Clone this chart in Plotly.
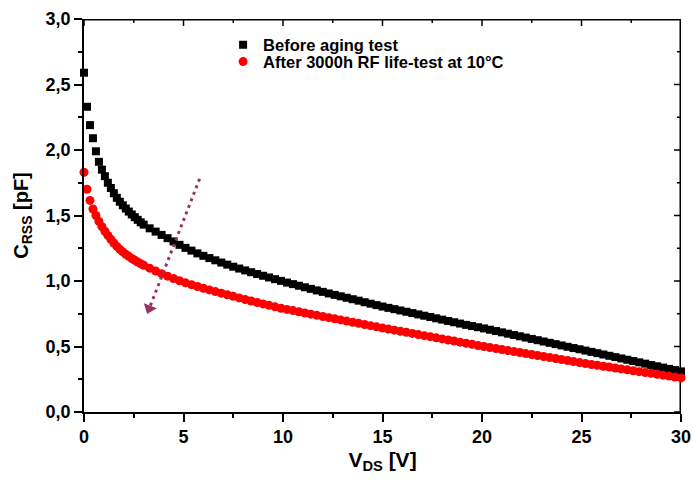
import plotly.graph_objects as go

# ---------------- data ----------------
V_DS = [0, 0.15, 0.3, 0.45, 0.6, 0.75, 0.9, 1.05, 1.2, 1.35,
        1.5, 1.65, 1.8, 1.95, 2.1, 2.25, 2.4, 2.55, 2.7, 2.85,
        3.0, 3.3, 3.6, 3.9, 4.2, 4.5, 4.8, 5.1, 5.4, 5.7,
        6.0, 6.3, 6.6, 6.9, 7.2, 7.5, 7.8, 8.1, 8.4, 8.7,
        9.0, 9.3, 9.6, 9.9, 10.2, 10.5, 10.8, 11.1, 11.4, 11.7,
        12.0, 12.3, 12.6, 12.9, 13.2, 13.5, 13.8, 14.1, 14.4, 14.7,
        15.0, 15.3, 15.6, 15.9, 16.2, 16.5, 16.8, 17.1, 17.4, 17.7,
        18.0, 18.3, 18.6, 18.9, 19.2, 19.5, 19.8, 20.1, 20.4, 20.7,
        21.0, 21.3, 21.6, 21.9, 22.2, 22.5, 22.8, 23.1, 23.4, 23.7,
        24.0, 24.3, 24.6, 24.9, 25.2, 25.5, 25.8, 26.1, 26.4, 26.7,
        27.0, 27.3, 27.6, 27.9, 28.2, 28.5, 28.8, 29.1, 29.4, 29.7,
        30.0]

C_BEFORE = [2.59, 2.33, 2.19, 2.09, 1.99, 1.91, 1.85, 1.80, 1.75, 1.71,
            1.67, 1.635, 1.605, 1.578, 1.553, 1.530, 1.508, 1.487, 1.467, 1.448,
            1.430, 1.402, 1.377, 1.352, 1.327, 1.302, 1.276, 1.253, 1.232, 1.211,
            1.192, 1.175, 1.158, 1.141, 1.125, 1.109, 1.095, 1.081, 1.067, 1.053,
            1.040, 1.027, 1.014, 1.001, 0.988, 0.976, 0.964, 0.952, 0.940, 0.928,
            0.917, 0.905, 0.894, 0.883, 0.872, 0.861, 0.850, 0.838, 0.827, 0.816,
            0.805, 0.795, 0.785, 0.775, 0.765, 0.755, 0.745, 0.735, 0.725, 0.715,
            0.705, 0.695, 0.685, 0.675, 0.665, 0.656, 0.647, 0.638, 0.628, 0.618,
            0.608, 0.598, 0.588, 0.578, 0.568, 0.558, 0.548, 0.538, 0.528, 0.518,
            0.508, 0.498, 0.488, 0.479, 0.469, 0.459, 0.449, 0.439, 0.429, 0.419,
            0.409, 0.399, 0.389, 0.379, 0.369, 0.359, 0.349, 0.339, 0.329, 0.320,
            0.310]

C_AFTER = [1.83, 1.70, 1.615, 1.55, 1.50, 1.455, 1.415, 1.38, 1.348, 1.318,
           1.29, 1.264, 1.242, 1.222, 1.204, 1.188, 1.172, 1.158, 1.145, 1.132,
           1.120, 1.098, 1.076, 1.056, 1.037, 1.019, 1.002, 0.986, 0.972, 0.958,
           0.945, 0.932, 0.919, 0.907, 0.895, 0.883, 0.871, 0.859, 0.847, 0.836,
           0.825, 0.814, 0.803, 0.792, 0.783, 0.774, 0.765, 0.756, 0.747, 0.738,
           0.729, 0.720, 0.712, 0.703, 0.694, 0.685, 0.677, 0.668, 0.659, 0.650,
           0.641, 0.633, 0.625, 0.616, 0.608, 0.600, 0.591, 0.583, 0.575, 0.566,
           0.558, 0.550, 0.542, 0.533, 0.525, 0.517, 0.508, 0.500, 0.492, 0.485,
           0.477, 0.469, 0.462, 0.454, 0.446, 0.439, 0.431, 0.423, 0.416, 0.408,
           0.400, 0.393, 0.385, 0.377, 0.370, 0.363, 0.356, 0.349, 0.343, 0.336,
           0.329, 0.322, 0.315, 0.308, 0.301, 0.295, 0.288, 0.281, 0.274, 0.267,
           0.260]

SERIES_NAMES = ["Before aging test", "After 3000h RF life-test at 10°C"]

# tick positions
X_MAJOR = [0, 5, 10, 15, 20, 25, 30]
X_MINOR = [2.5, 7.5, 12.5, 17.5, 22.5, 27.5]
Y_MAJOR = [0, 0.5, 1.0, 1.5, 2.0, 2.5, 3.0]
Y_MINOR = [0.25, 0.75, 1.25, 1.75, 2.25, 2.75]

# arrow (start point, head centre) in data coordinates
ARROW_V = [5.81, 3.28]
ARROW_C = [1.78, 0.79]

X_RANGE = [0, 30]
Y_RANGE = [0, 3]

FONT = "Liberation Sans, Arial, sans-serif"
ARROW_COLOR = "#993366"

W, H = 694, 485
M_L, M_R, M_T, M_B = 84, 13, 19, 73
PX_PER_X = (W - M_L - M_R) / (X_RANGE[1] - X_RANGE[0])
PX_PER_Y = (H - M_T - M_B) / (Y_RANGE[1] - Y_RANGE[0])
LW = 1.5

fig = go.Figure()

# top / right frame with inward ticks, inset by half a line width so it is
# not clipped by the plotting area
x_edge = X_RANGE[1] - (LW / 2) / PX_PER_X
y_edge = Y_RANGE[1] - (LW / 2) / PX_PER_Y
fx, fy = [X_RANGE[0], x_edge, x_edge], [y_edge, y_edge, Y_RANGE[0]]
for vals, ln in ((X_MAJOR, 7), (X_MINOR, 4)):
    for v in vals:
        fx += [None, v, v]
        fy += [None, Y_RANGE[1], Y_RANGE[1] - ln / PX_PER_Y]
for vals, ln in ((Y_MAJOR, 7), (Y_MINOR, 4)):
    for v in vals:
        fx += [None, X_RANGE[1], X_RANGE[1] - ln / PX_PER_X]
        fy += [None, v, v]
fig.add_trace(go.Scatter(
    x=fx, y=fy, mode="lines", showlegend=False, hoverinfo="skip",
    connectgaps=False, line=dict(color="black", width=LW)))

fig.add_trace(go.Scatter(
    x=V_DS, y=C_BEFORE, mode="markers", name=SERIES_NAMES[0], legend="legend",
    marker=dict(symbol="square", size=8, color="black", line=dict(width=0)),
    cliponaxis=False))
fig.add_trace(go.Scatter(
    x=V_DS, y=C_AFTER, mode="markers", name=SERIES_NAMES[1], legend="legend2",
    marker=dict(symbol="circle", size=9, color="#ff0000", line=dict(width=0)),
    cliponaxis=False))

# dotted arrow line
fig.add_trace(go.Scatter(
    x=ARROW_V, y=ARROW_C, mode="lines", showlegend=False, hoverinfo="skip",
    line=dict(color=ARROW_COLOR, width=3, dash="3px,4px")))
# arrow head
fig.add_trace(go.Scatter(
    x=[ARROW_V[1]], y=[ARROW_C[1]], mode="markers", showlegend=False,
    hoverinfo="skip",
    marker=dict(symbol="triangle-down", size=12, angle=21,
                color=ARROW_COLOR, line=dict(width=0))))

tick_font = dict(family=FONT, size=18, color="black", weight="bold")
legend_font = dict(family=FONT, size=16.5, color="black", weight="bold")

common_legend = dict(x=0.233, xanchor="left", yanchor="middle",
                     bgcolor="rgba(0,0,0,0)", borderwidth=0,
                     font=legend_font, itemwidth=30)

fig.update_layout(
    width=W, height=H,
    margin=dict(l=M_L, r=M_R, t=M_T, b=M_B, autoexpand=False),
    paper_bgcolor="white", plot_bgcolor="white",
    separators=",.",
    font=dict(family=FONT, color="black"),
    showlegend=True,
    legend=dict(y=0.934, **common_legend),
    legend2=dict(y=0.891, **common_legend),
    xaxis=dict(range=X_RANGE, showgrid=False, zeroline=False, automargin=False,
               showline=True, linecolor="black", linewidth=LW,
               ticks="outside", ticklen=8, tickwidth=LW, tickcolor="black",
               tickmode="array", tickvals=X_MAJOR, tickfont=tick_font,
               minor=dict(ticks="outside", ticklen=4, tickwidth=LW,
                          tickcolor="black", tickmode="array", tickvals=X_MINOR,
                          showgrid=False),
               title=dict(text="V<sub>DS</sub> [V]",
                          font=dict(family=FONT, size=21, color="black", weight="bold"),
                          standoff=6)),
    yaxis=dict(range=Y_RANGE, showgrid=False, zeroline=False, automargin=False,
               showline=True, linecolor="black", linewidth=LW,
               ticks="outside", ticklen=8, tickwidth=LW, tickcolor="black",
               tickmode="array", tickvals=Y_MAJOR, tickformat=".1f",
               tickfont=tick_font,
               minor=dict(ticks="outside", ticklen=4, tickwidth=LW,
                          tickcolor="black", tickmode="array", tickvals=Y_MINOR,
                          showgrid=False),
               title=dict(text="C<sub>RSS</sub> [pF]",
                          font=dict(family=FONT, size=20, color="black", weight="bold"),
                          standoff=12)),
)

fig.write_html("out.html")
